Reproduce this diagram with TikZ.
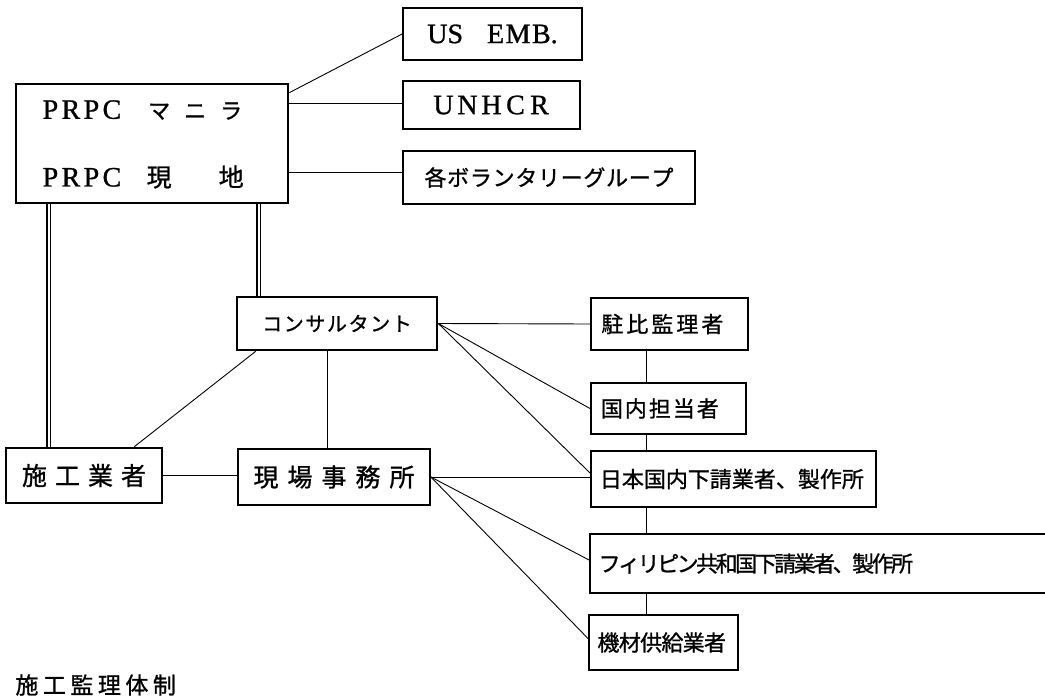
\documentclass[tikz,border=0pt]{standalone}
\usepackage{fontspec}
\setmainfont{Liberation Serif}[FakeBold=1]
\newfontfamily\jp{Noto Sans CJK JP}[FakeBold=1]
\usetikzlibrary{calc}
\makeatletter
\newcommand\pitched[2]{\@tfor\pc:=#2\do{\makebox[#1][c]{\pc}}}
\makeatother
\newcommand\fs[1]{\fontsize{#1}{#1}\selectfont}
\begin{document}
\begin{tikzpicture}[x=1pt,y=-1pt,
  box/.style={draw, line width=1.8pt, inner sep=0pt, anchor=center},
  tbox/.style={box, line width=2.7pt},
  lbox/.style={draw, line width=1.8pt, inner xsep=9pt, inner ysep=0pt, align=left, anchor=west},
  txt/.style={anchor=west, inner sep=0pt},
  conn/.style={line width=0.9pt},
  rail/.style={line width=1.1pt}]
\fill[white] (0,0) rectangle (1045,699);
\begin{scope}
\clip (0,0) rectangle (1045,699);

% PRPC block
\node[tbox, minimum width=272pt, minimum height=119pt] (prpc) at (152,143.5) {};
\node[txt] (prpc1) at (40,110) {\fs{28}\pitched{20.5pt}{PRPC}\hspace{19pt}{\jp\fs{22}\pitched{36pt}{マニラ}}};
\node[txt] (prpc2) at (40,177) {\fs{28}\pitched{20.5pt}{PRPC}\hspace{19pt}{\jp\fs{25}\makebox[36pt]{現}\makebox[36pt]{}\makebox[36pt]{地}}};

% top right
\node[box, minimum width=179pt, minimum height=52pt] (usemb) at (492.5,34) {\fs{28}US\hspace{24pt}E\hspace{1.5pt}M\hspace{1.5pt}B.};
\node[box, minimum width=177pt, minimum height=48pt] (unhcr) at (491.5,105) {\fs{28}\pitched{24pt}{UNHCR}};
\node[box, minimum width=292pt, minimum height=53pt] (vol) at (549,177.5) {\jp\fs{22}\pitched{22.7pt}{各ボランタリーグループ}};

% middle
\node[tbox, minimum width=200pt, minimum height=53pt] (consult) at (337,323.5) {\jp\fs{20}\pitched{21.6pt}{コンサルタント}};
\node[tbox, minimum width=156pt, minimum height=55pt] (sekou) at (84,475.5) {\jp\fs{25}\pitched{33pt}{施工業者}};
\node[box, minimum width=192pt, minimum height=56pt] (genba) at (334,477) {\jp\fs{25}\pitched{34pt}{現場事務所}};

% right column
\node[lbox, text width=139pt, minimum height=52pt] (chuhi) at (590,324) {\jp\fs{22}\pitched{25pt}{駐比監理者}};
\node[lbox, text width=137pt, minimum height=51pt] (kokunai) at (590,408.5) {\jp\fs{22}\pitched{24pt}{国内担当者}};
\node[lbox, text width=267pt, minimum height=56pt] (nihon) at (590,479) {\jp\fs{22}\pitched{22pt}{日本国内下請業者、製作所}};
\node[lbox, draw=none, text width=500pt, minimum height=57pt] (phil) at (590,563.5) {\jp\fs{22}\pitched{19.5pt}{フィリピン共和国下請業者、製作所}};
\draw[line width=1.8pt] (phil.north east) -- (phil.north west) -- (phil.south west) -- (phil.south east);
\node[lbox, text width=131pt, minimum height=55pt] (kizai) at (588,642.5) {\jp\fs{22}\pitched{21.3pt}{機材供給業者}};

% caption
\node[txt] (cap) at (13,685) {\jp\fs{23}\pitched{27.5pt}{施工監理体制}};

% connectors
\draw[conn] ([yshift=-10pt]prpc.north east) -- (usemb.west);
\draw[conn] ([yshift=2pt]unhcr.west -| prpc.east) -- ([yshift=2pt]unhcr.west);
\draw[conn] ([yshift=5.5pt]vol.west -| prpc.east) -- ([yshift=5.5pt]vol.west);
\draw[rail] ([xshift=32.3pt]prpc.south west) -- ([xshift=32.3pt]prpc.south west |- sekou.north);
\draw[rail] ([xshift=35.7pt]prpc.south west) -- ([xshift=35.7pt]prpc.south west |- sekou.north);
\draw[rail] ([xshift=21.3pt]consult.north west |- prpc.south) -- ([xshift=21.3pt]consult.north west);
\draw[rail] ([xshift=24.7pt]consult.north west |- prpc.south) -- ([xshift=24.7pt]consult.north west);
\draw[conn] ([xshift=20pt]consult.south west) -- ([xshift=-29pt]sekou.north east);
\draw[conn] ([xshift=-7pt]genba.north |- consult.south) -- ([xshift=-7pt]genba.north);
\draw[conn] (sekou.east) -- (sekou.east -| genba.west);
\draw[conn] (consult.east) -- (chuhi.west);
\draw[conn] (consult.east) -- (kokunai.west);
\draw[conn] (consult.east) -- ([yshift=6pt]nihon.west);
\draw[conn] (genba.east) -- (genba.east -| nihon.west);
\draw[conn] (genba.east) -- ([yshift=3pt]phil.west);
\draw[conn] (genba.east) -- ([yshift=4pt]kizai.west);
\coordinate (sp) at (646,0);
\draw[conn] (chuhi.south -| sp) -- (kokunai.north -| sp);
\draw[conn] (kokunai.south -| sp) -- (nihon.north -| sp);
\draw[conn] (nihon.south -| sp) -- (phil.north -| sp);
\draw[conn] (phil.south -| sp) -- (kizai.north -| sp);
\end{scope}
\pgfresetboundingbox
\useasboundingbox (0,0) rectangle (1045,699);
\end{tikzpicture}
\end{document}
